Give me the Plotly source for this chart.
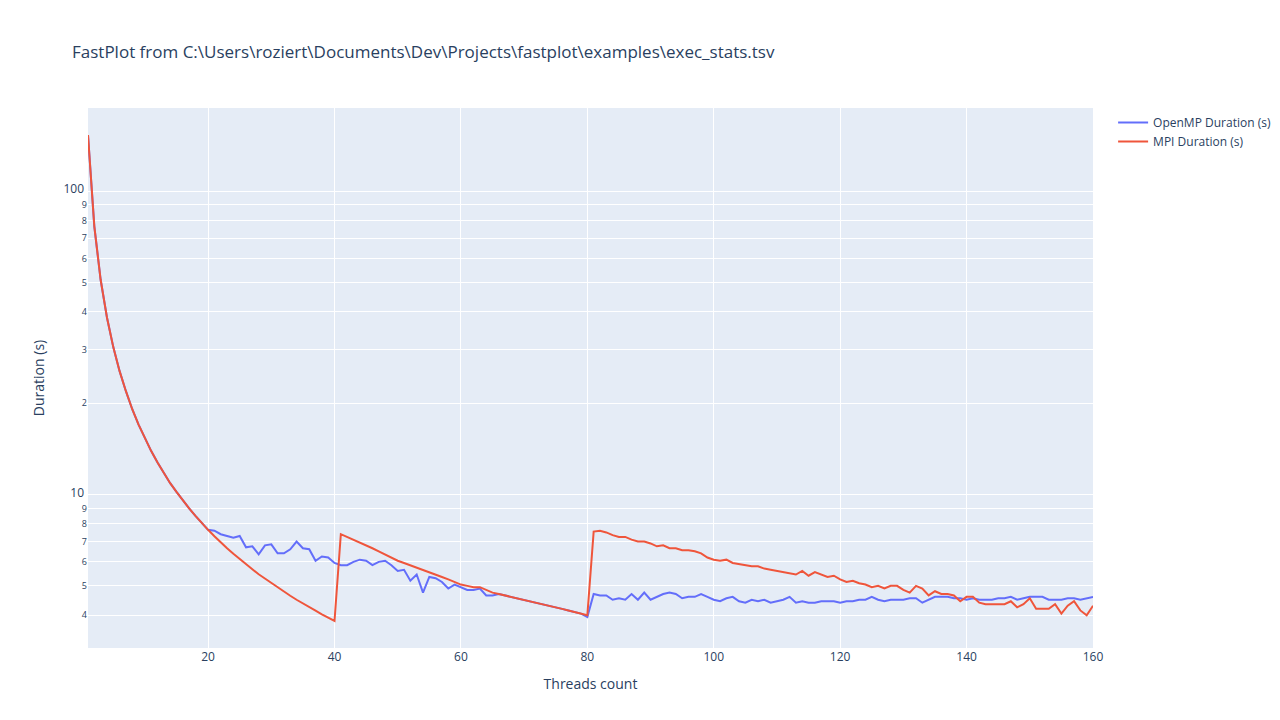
import plotly.graph_objects as go

threads = list(range(1, 161))

common_head = [153, 76.5, 51, 38.3, 30.6, 25.5, 21.9, 19.1, 17, 15.3,
               13.9, 12.75, 11.8, 10.9, 10.2, 9.56, 9.0, 8.5, 8.05, 7.65]

openmp_duration = common_head + [
    7.6, 7.4, 7.3, 7.2, 7.3, 6.7, 6.75, 6.35, 6.8, 6.85,
    6.4, 6.4, 6.6, 7.0, 6.65, 6.6, 6.05, 6.25, 6.2, 5.95,
    5.85, 5.85, 6.0, 6.1, 6.05, 5.85, 6.0, 6.05, 5.85, 5.6,
    5.65, 5.2, 5.45, 4.75, 5.35, 5.3, 5.15, 4.9, 5.05, 4.95,
    4.85, 4.85, 4.9, 4.65, 4.65, 4.7, 4.65, 4.6, 4.55, 4.5,
    4.45, 4.4, 4.35, 4.3, 4.25, 4.2, 4.15, 4.1, 4.05, 3.95,
    4.7, 4.65, 4.65, 4.5, 4.55, 4.5, 4.7, 4.5, 4.75, 4.5,
    4.6, 4.7, 4.75, 4.7, 4.55, 4.6, 4.6, 4.7, 4.6, 4.5,
    4.45, 4.55, 4.6, 4.45, 4.4, 4.5, 4.45, 4.5, 4.4, 4.45,
    4.5, 4.6, 4.4, 4.45, 4.4, 4.4, 4.45, 4.45, 4.45, 4.4,
    4.45, 4.45, 4.5, 4.5, 4.6, 4.5, 4.45, 4.5, 4.5, 4.5,
    4.55, 4.55, 4.4, 4.5, 4.6, 4.6, 4.6, 4.55, 4.55, 4.5,
    4.55, 4.5, 4.5, 4.5, 4.55, 4.55, 4.6, 4.5, 4.55, 4.6,
    4.6, 4.6, 4.5, 4.5, 4.5, 4.55, 4.55, 4.5, 4.55, 4.6,
]

mpi_duration = common_head + [
    7.29, 6.95, 6.65, 6.38, 6.12, 5.88, 5.67, 5.46, 5.28, 5.1,
    4.94, 4.78, 4.64, 4.5, 4.37, 4.25, 4.14, 4.03, 3.92, 3.83,
    7.4, 7.25, 7.1, 6.95, 6.8, 6.65, 6.5, 6.35, 6.2, 6.05,
    5.95, 5.85, 5.75, 5.65, 5.55, 5.45, 5.35, 5.25, 5.15, 5.05,
    5.0, 4.95, 4.95, 4.85, 4.75, 4.7, 4.65, 4.6, 4.55, 4.5,
    4.45, 4.4, 4.35, 4.3, 4.25, 4.2, 4.15, 4.1, 4.05, 4.0,
    7.55, 7.6, 7.5, 7.35, 7.25, 7.25, 7.1, 7.0, 7.0, 6.9,
    6.75, 6.8, 6.65, 6.65, 6.55, 6.55, 6.5, 6.4, 6.2, 6.1,
    6.05, 6.1, 5.95, 5.9, 5.85, 5.8, 5.8, 5.7, 5.65, 5.6,
    5.55, 5.5, 5.45, 5.6, 5.4, 5.55, 5.45, 5.35, 5.4, 5.25,
    5.15, 5.2, 5.1, 5.05, 4.95, 5.0, 4.9, 5.0, 5.0, 4.85,
    4.75, 5.0, 4.9, 4.65, 4.8, 4.7, 4.7, 4.65, 4.45, 4.6,
    4.6, 4.4, 4.35, 4.35, 4.35, 4.35, 4.45, 4.25, 4.35, 4.55,
    4.2, 4.2, 4.2, 4.35, 4.05, 4.3, 4.45, 4.15, 4.0, 4.3,
]

fig = go.Figure()
fig.add_trace(go.Scatter(x=threads, y=openmp_duration, mode='lines', name='OpenMP Duration (s)'))
fig.add_trace(go.Scatter(x=threads, y=mpi_duration, mode='lines', name='MPI Duration (s)'))

fig.update_layout(
    title=r"FastPlot from C:\Users\roziert\Documents\Dev\Projects\fastplot\examples\exec_stats.tsv",
    xaxis_title="Threads count",
    yaxis_title="Duration (s)",
    yaxis_type="log",
    width=1280,
    height=720,
)
fig.write_html("out.html")
